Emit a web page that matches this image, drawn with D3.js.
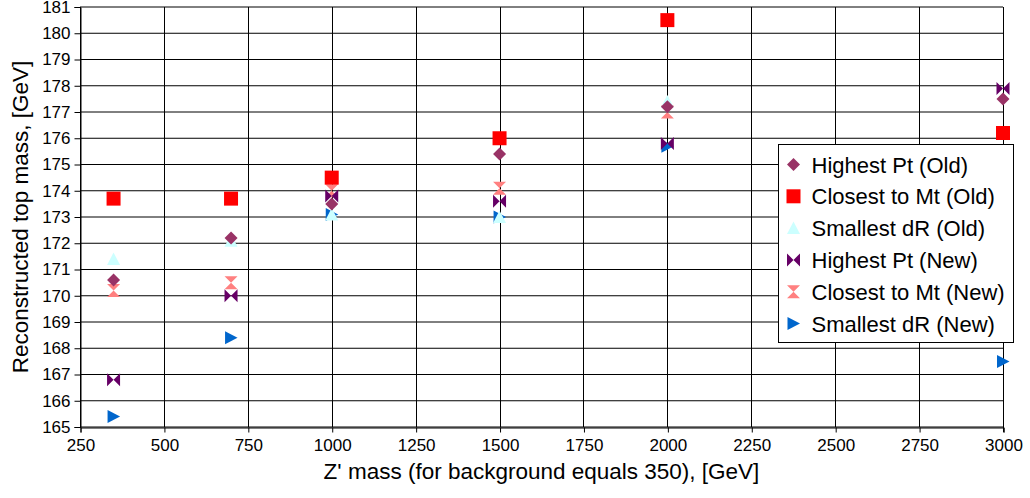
<!DOCTYPE html>
<html>
<head>
<meta charset="utf-8">
<script src="https://cdn.jsdelivr.net/npm/d3@7"></script>
<style>
  html, body { margin: 0; padding: 0; background: #fff; }
  svg { display: block; font-family: "Liberation Sans", Arial, sans-serif; }
</style>
</head>
<body>
<svg id="chart" width="1030" height="498"></svg>
<script>
// Z' mass points (GeV)
const zMass = [350, 700, 1000, 1500, 2000, 3000];

// Reconstructed top mass per selection method (GeV); null = not shown
const highestPtOld   = [170.6, 172.2, 173.5, 175.4, 177.2, 177.5];
const closestMtOld   = [173.7, 173.7, 174.5, 176.0, 180.5, 176.2];
const smallestDrOld  = [171.4, 172.1, 173.1, 173.0, 177.4, null];
const highestPtNew   = [166.8, 170.0, 173.8, 173.6, 175.8, 177.9];
const closestMtNew   = [170.2, 170.5, 174.0, 174.1, 177.0, null];
const smallestDrNew  = [165.4, 168.4, 173.1, 173.0, 175.7, 167.5];

const seriesNames = [
  "Highest Pt (Old)", "Closest to Mt (Old)", "Smallest dR (Old)",
  "Highest Pt (New)", "Closest to Mt (New)", "Smallest dR (New)"
];
const seriesValues = [highestPtOld, closestMtOld, smallestDrOld,
                      highestPtNew, closestMtNew, smallestDrNew];
const seriesColors = ["#993366", "#FF0000", "#CCFFFF", "#660066", "#FF8080", "#0066CC"];
const seriesShapes = ["diamond", "square", "triangleUp", "bowtie", "hourglass", "triangleRight"];

const xTicks = d3.range(250, 3001, 250);
const yTicks = d3.range(165, 182, 1);

const svg = d3.select("#chart");
const margin = { left: 80, right: 27, top: 7, bottom: 71 };
const W = 1030, H = 498;

const x = d3.scaleLinear().domain([250, 3000]).range([margin.left, W - margin.right]);
const y = d3.scaleLinear().domain([165, 181]).range([H - margin.bottom, margin.top]);

// Marker path generators, centred on (0,0)
function markerPath(shape) {
  switch (shape) {
    case "diamond":       return "M0,-6.5L6.5,0L0,6.5L-6.5,0Z";
    case "square":        return "M-7,-7H7V7H-7Z";
    case "triangleUp":    return "M0,-6.5L6.5,6L-6.5,6Z";
    case "bowtie":        return "M-6.5,-6.5L0,0L-6.5,6.5Z M6.5,-6.5L0,0L6.5,6.5Z";
    case "hourglass":     return "M-6.5,-6.5H6.5L0,0Z M-6.5,6.5H6.5L0,0Z";
    case "triangleRight": return "M-6,-6.5L6.5,0L-6,6.5Z";
  }
}

// Grid: horizontal lines fall between pixel rows, vertical ones are crisp
const grid = svg.append("g");
grid.selectAll("line.h").data(yTicks).join("line")
  .attr("x1", margin.left).attr("x2", W - margin.right)
  .attr("y1", d => y(d)).attr("y2", d => y(d))
  .attr("stroke", "#000").attr("stroke-width", 1);
grid.selectAll("line.v").data(xTicks).join("line")
  .attr("y1", margin.top).attr("y2", H - margin.bottom)
  .attr("x1", d => Math.round(x(d)) + 0.5).attr("x2", d => Math.round(x(d)) + 0.5)
  .attr("stroke", "#000").attr("stroke-width", 1);

// Axes
const xAxis = d3.axisBottom(x).tickValues(xTicks).tickSize(5).tickPadding(6).tickFormat(d3.format("d"));
const yAxis = d3.axisLeft(y).tickValues(yTicks).tickSize(6).tickPadding(4).tickFormat(d3.format("d"));

const gx = svg.append("g").attr("transform", `translate(0.5,${Math.round(y(165)) + 0.5})`).call(xAxis);
const gy = svg.append("g").attr("transform", `translate(${margin.left + 0.5},0)`).call(yAxis);
[gx, gy].forEach(g => {
  g.select(".domain").attr("stroke", "#000");
  g.selectAll(".tick line").attr("stroke", "#000");
  g.selectAll(".tick text").attr("fill", "#000")
    .style("font-family", '"Liberation Sans", Arial, sans-serif').style("font-size", "17px");
});

// Right frame line
svg.append("line").attr("x1", Math.round(x(3000)) + 0.5).attr("x2", Math.round(x(3000)) + 0.5)
  .attr("y1", margin.top).attr("y2", Math.round(y(165)) + 5).attr("stroke", "#000");

// Points: later series underneath earlier ones
const pts = svg.append("g");
for (let s = seriesValues.length - 1; s >= 0; s--) {
  const data = zMass.map((m, i) => ({ m, v: seriesValues[s][i] })).filter(d => d.v != null);
  pts.append("g").selectAll("path").data(data).join("path")
    .attr("d", markerPath(seriesShapes[s]))
    .attr("transform", d => `translate(${x(d.m)},${y(d.v)})`)
    .attr("fill", seriesColors[s]);
}

// Legend
const lg = svg.append("g").attr("transform", "translate(778.5,144.5)");
lg.append("rect").attr("width", 235).attr("height", 198).attr("fill", "#fff").attr("stroke", "#000");
seriesNames.forEach((name, i) => {
  const row = lg.append("g").attr("transform", `translate(0,${20 + i * 31.8})`);
  row.append("path").attr("d", markerPath(seriesShapes[i]))
    .attr("transform", "translate(15,0)").attr("fill", seriesColors[i]);
  row.append("text").attr("x", 33).attr("y", 8)
    .style("font-size", "22px").attr("fill", "#000").text(name);
});

// Axis titles
svg.append("text").attr("x", (x(250) + x(3000)) / 2).attr("y", 479)
  .attr("text-anchor", "middle").style("font-size", "22.5px").text("Z' mass (for background equals 350), [GeV]");
svg.append("text").attr("transform", `translate(28,${(y(165) + y(181)) / 2}) rotate(-90)`)
  .attr("text-anchor", "middle").style("font-size", "22.5px").text("Reconstructed top mass, [GeV]");
</script>
</body>
</html>
